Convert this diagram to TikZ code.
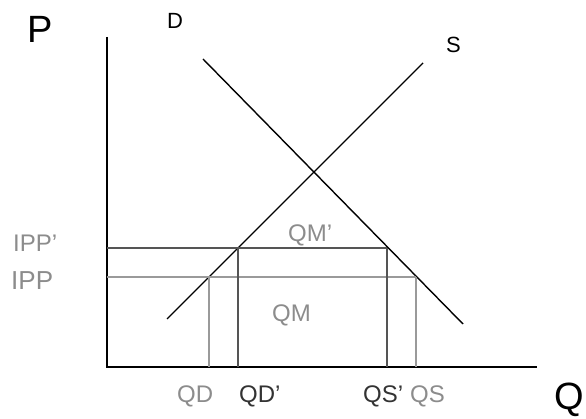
\documentclass[tikz,border=0pt]{standalone}
\usepackage{fontspec}
\setmainfont{Liberation Sans}
\usetikzlibrary{positioning,calc}
\definecolor{lblGray}{HTML}{8C8C8C}
\definecolor{lblDark}{HTML}{333333}
\definecolor{lineDark}{HTML}{555555}
\definecolor{lineLight}{HTML}{9A9A9A}
\tikzset{
  axislbl/.style={anchor=base west, inner sep=0pt, font=\fontsize{38}{40}\selectfont},
  curvelbl/.style={anchor=base west, inner sep=0pt, font=\fontsize{22}{24}\selectfont},
  qtylbl/.style={anchor=base west, inner sep=0pt, font=\fontsize{24}{26}\selectfont},
}

\begin{document}
\begin{tikzpicture}[x=1pt, y=1pt]
        \useasboundingbox (0,0) rectangle (586,419);
        % axes and curves
        \coordinate (O) at (107,52);
        \coordinate (ytop) at (107,382);
        \coordinate (xend) at (537,52);
        \coordinate (d1) at (203,360);
        \coordinate (d2) at (463,95);
        \coordinate (s1) at (167,100);
        \coordinate (s2) at (423,356);
        % price levels on the curves
        \coordinate (pdp) at (238,171);
        \coordinate (psp) at (387,171);
        \coordinate (pd) at (209,142);
        \coordinate (ps) at (416,142);
        \draw[line width=2pt] (ytop) -- (O) -- (xend);
        \draw[line width=1.4pt] (d1) -- (d2);
        \draw[line width=1.4pt] (s1) -- (s2);
        \draw[line width=1.6pt, lineDark] (O |- pdp) -- (psp);
        \draw[line width=1.4pt, lineLight] (O |- pd) -- (ps);
        \draw[line width=1.6pt, lineDark] (pdp) -- (pdp |- O);
        \draw[line width=1.6pt, lineDark] (psp) -- (psp |- O);
        \draw[line width=1.4pt, lineLight] (pd) -- (pd |- O);
        \draw[line width=1.4pt, lineLight] (ps) -- (ps |- O);
        % labels
        \node[axislbl] (P) at (27,376) {P};
        \node[axislbl] (Q) at (554,9) {Q};
        \node[curvelbl] (D) at (167,390) {D};
        \node[curvelbl] (S) at (446,366) {S};
        \node[qtylbl, lblGray] (ippp) at (13,167) {IPP'};
        \node[qtylbl, lblGray, font=\fontsize{26}{28}\selectfont] (ipp) at (11,129) {IPP};
        \node[qtylbl, lblGray] (qd) at (177,16) {QD};
        \node[qtylbl, lblDark] (qdp) at (239,16) {QD'};
        \node[qtylbl, lblDark] (qsp) at (363,16) {QS'};
        \node[qtylbl, lblGray] (qs) at (410,16) {QS};
        \node[qtylbl, lblGray] (qmp) at (288,177) {QM'};
        \node[qtylbl, lblGray] (qm) at (272,97) {QM};
      \end{tikzpicture}
\end{document}
